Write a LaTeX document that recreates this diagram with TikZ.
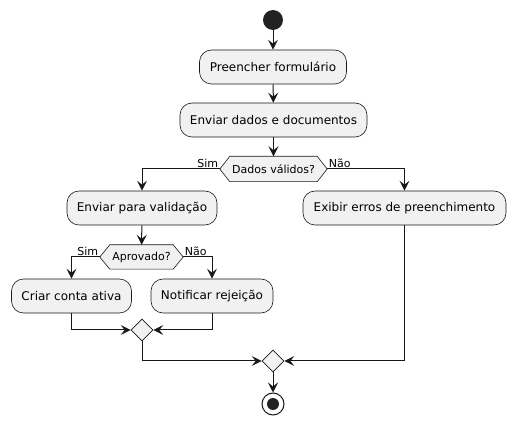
\documentclass[tikz,border=0pt]{standalone}
\usepackage{fontspec}
\setmainfont{DejaVu Sans}
\usetikzlibrary{arrows.meta,shapes.geometric,backgrounds,calc}
\definecolor{boxfill}{HTML}{F1F1F1}
\definecolor{linec}{HTML}{181818}
\definecolor{dotc}{HTML}{222222}
\tikzset{
  act/.style={draw=linec, fill=boxfill, rounded corners=12pt, line width=0.6pt,
    minimum height=34pt, inner sep=0pt, font=\fontsize{12}{14}\selectfont},
  hexlbl/.style={minimum height=25pt, inner sep=0pt, font=\fontsize{11}{13}\selectfont},
  hexshape/.style={draw=linec, fill=boxfill, line width=0.6pt},
  merge/.style={diamond, draw=linec, fill=boxfill, line width=0.6pt,
    minimum width=22pt, minimum height=22pt, inner sep=0pt},
  flow/.style={draw=linec, line width=1pt, -{Stealth[length=10pt,width=10pt,inset=4pt]}},
  plain/.style={draw=linec, line width=1pt},
  lbl/.style={font=\fontsize{11}{13}\selectfont, inner sep=1.5pt},
}
\newcommand{\hexframe}[1]{%
  \draw[hexshape] (#1.west) -- ([xshift=10pt]#1.north west) -- ([xshift=-10pt]#1.north east)
    -- (#1.east) -- ([xshift=-10pt]#1.south east) -- ([xshift=10pt]#1.south west) -- cycle;}
\begin{document}
\begin{tikzpicture}[x=1pt,y=-1pt]
\useasboundingbox (0,0) rectangle (515,425);
% start
\node[circle, fill=dotc, minimum size=20pt, inner sep=0pt] (start) at (273,20) {};
% actions
\node[act, minimum width=147pt] (p1) at (273,67) {Preencher formulário};
\node[act, minimum width=187pt] (p2) at (273.5,120) {Enviar dados e documentos};
\node[hexlbl, minimum width=107pt] (d1) at (273.5,169) {Dados válidos?};
\node[act, minimum width=150pt] (v1) at (142,208) {Enviar para validação};
\node[act, minimum width=203pt] (e1) at (404.5,208) {Exibir erros de preenchimento};
\node[hexlbl, minimum width=83pt, minimum height=24pt] (d2) at (141.5,257) {Aprovado?};
\node[act, minimum width=120pt] (c1) at (71.5,296) {Criar conta ativa};
\node[act, minimum width=122pt] (n1) at (212,296) {Notificar rejeição};
\node[merge] (m1) at (142,330) {};
\node[merge] (m2) at (273,361) {};
% end
\node[circle, draw=linec, line width=1pt, fill=white, minimum size=22pt, inner sep=0pt] (stop) at (273,404) {};
\node[circle, fill=dotc, minimum size=12pt, inner sep=0pt] (stopdot) at (stop.center) {};
\begin{scope}[on background layer]
  \hexframe{d1}
  \hexframe{d2}
\end{scope}
% connectors
\draw[flow] (start) -- (p1);
\draw[flow] (p1) -- (p2);
\draw[flow] (p2) -- (d1);
\draw[flow] (d1.west) -| (v1.north);
\draw[flow] (d1.east) -| (e1.north);
\node[lbl, anchor=south east] (s1) at (d1.west) {Sim};
\node[lbl, anchor=south west] (n1l) at (d1.east) {Não};
\draw[flow] (v1) -- (d2);
\draw[flow] (d2.west) -| (c1.north);
\draw[flow] (d2.east) -| (n1.north);
\node[lbl, anchor=south east] (s2) at (d2.west) {Sim};
\node[lbl, anchor=south west] (n2l) at (d2.east) {Não};
\draw[flow] (c1.south) |- (m1.west);
\draw[flow] (n1.south) |- (m1.east);
\draw[flow] (m1.south) |- (m2.west);
\draw[flow] (e1.south) |- (m2.east);
\draw[flow] (m2) -- (stop);
\end{tikzpicture}
\end{document}
